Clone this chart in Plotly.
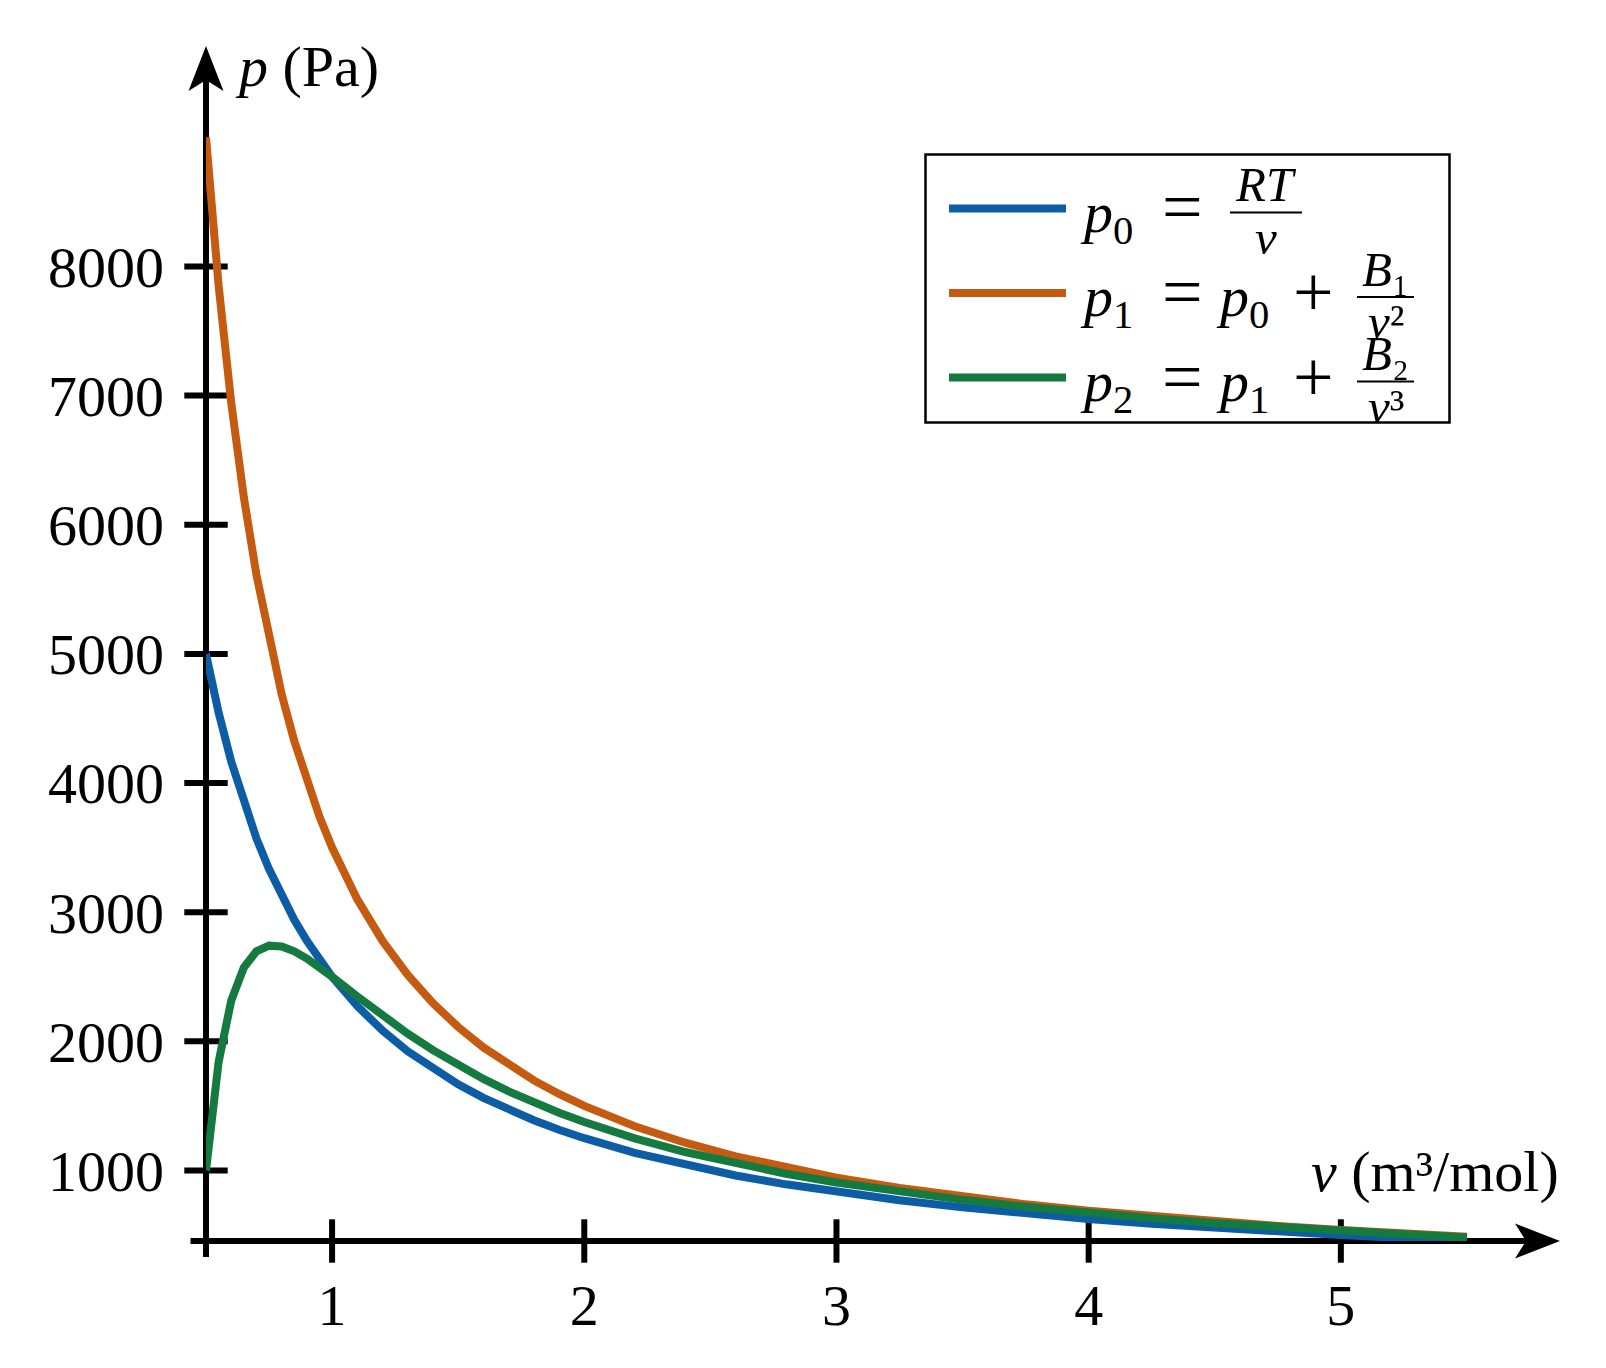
import plotly.graph_objects as go

# ---------------- data ----------------
v_values = [0.5, 0.55, 0.6, 0.65, 0.7, 0.75, 0.8, 0.85, 0.9, 0.95, 1.0,
            1.1, 1.2, 1.3, 1.4, 1.5, 1.6, 1.7, 1.8, 1.9, 2.0,
            2.2, 2.4, 2.6, 2.8, 3.0, 3.25, 3.5, 3.75, 4.0,
            4.25, 4.5, 4.75, 5.0, 5.25, 5.5]
p0_values = [5000, 4545.5, 4166.7, 3846.2, 3571.4, 3333.3, 3125, 2941.2, 2777.8, 2631.6, 2500,
             2272.7, 2083.3, 1923.1, 1785.7, 1666.7, 1562.5, 1470.6, 1388.9, 1315.8, 1250,
             1136.4, 1041.7, 961.5, 892.9, 833.3, 769.2, 714.3, 666.7, 625,
             588.2, 555.6, 526.3, 500, 476.2, 454.5]
p1_values = [9000, 7851.2, 6944.4, 6213.0, 5612.2, 5111.1, 4687.5, 4325.3, 4012.3, 3739.6, 3500,
             3099.2, 2777.8, 2514.8, 2295.9, 2111.1, 1953.1, 1816.6, 1697.5, 1592.8, 1500,
             1343.0, 1215.3, 1109.5, 1020.4, 944.4, 863.9, 795.9, 737.8, 687.5,
             643.6, 605.0, 570.6, 540, 512.5, 487.6]
p2_values = [1000, 1840.7, 2314.8, 2571.7, 2696.8, 2740.7, 2734.4, 2697.0, 2640.6, 2573.2, 2500,
             2347.9, 2199.1, 2059.6, 1931.5, 1814.8, 1709.0, 1613.1, 1526.0, 1447.0, 1375,
             1249.1, 1143.0, 1052.6, 974.9, 907.4, 834.8, 772.6, 718.8, 671.9,
             630.6, 594.0, 561.3, 532, 505.6, 481.6]

x_ticks = [1, 2, 3, 4, 5]
x_tick_labels = ["1", "2", "3", "4", "5"]
y_ticks = [1000, 2000, 3000, 4000, 5000, 6000, 7000, 8000]
y_tick_labels = ["1000", "2000", "3000", "4000", "5000", "6000", "7000", "8000"]

series_names = ["p0", "p1", "p2"]
series_colors = ["#0C5DA5", "#C55A11", "#157A3F"]

# ---------------- layout geometry ----------------
# the page body has an 8px margin, so the figure is drawn 8px in from the window edge
OFF = 8
W, H = 1590, 1352
PL, PR, PT, PB = 206, 1560, 46, 1241      # plot area in window pixels
L, T = PL - OFF, PT - OFF
R = W - (PR - OFF)
B = H - (PB - OFF)
PW = PR - PL
PH = PB - PT
X_RANGE = [0.5, 5.869]
Y_RANGE = [454, 9707]
FONT = "Liberation Serif"
BIG = 58
LW = 8


def px(x):
    return (x - PL) / PW


def py(y):
    return (PB - y) / PH


fig = go.Figure()

# tick marks crossing the axes
fig.add_trace(go.Scatter(
    x=x_ticks, y=[Y_RANGE[0]] * len(x_ticks), mode="markers",
    marker=dict(symbol="line-ns", size=31, color="black",
                line=dict(width=6, color="black")),
    cliponaxis=False, hoverinfo="skip", showlegend=False))
fig.add_trace(go.Scatter(
    x=[X_RANGE[0]] * len(y_ticks), y=y_ticks, mode="markers",
    marker=dict(symbol="line-ew", size=31, color="black",
                line=dict(width=6, color="black")),
    cliponaxis=False, hoverinfo="skip", showlegend=False))

# curves
for name, ys, col in zip(series_names, [p0_values, p1_values, p2_values], series_colors):
    fig.add_trace(go.Scatter(
        x=v_values, y=ys, mode="lines", name=name,
        line=dict(color=col, width=LW), cliponaxis=False, showlegend=False))

shapes = []
# axis lines
shapes.append(dict(type="line", xref="paper", yref="paper",
                   x0=px(190.5), x1=px(1530), y0=py(1241), y1=py(1241),
                   line=dict(color="black", width=6), layer="below"))
shapes.append(dict(type="line", xref="paper", yref="paper",
                   x0=px(206), x1=px(206), y0=py(1257), y1=py(80),
                   line=dict(color="black", width=6), layer="below"))


def path(points):
    return "M " + " L ".join(f"{px(a):.5f},{py(b):.5f}" for a, b in points) + " Z"


# arrow heads
shapes.append(dict(type="path", xref="paper", yref="paper",
                   path=path([(1560, 1241), (1515, 1223.5), (1526, 1241), (1515, 1258.5)]),
                   fillcolor="black", line=dict(width=0), layer="below"))
shapes.append(dict(type="path", xref="paper", yref="paper",
                   path=path([(206, 46), (188.5, 91), (206, 80), (223.5, 91)]),
                   fillcolor="black", line=dict(width=0), layer="below"))

# legend box
shapes.append(dict(type="rect", xref="paper", yref="paper",
                   x0=px(925.5), x1=px(1449.5), y0=py(154.5), y1=py(422.5),
                   line=dict(color="black", width=2.5), fillcolor="white", layer="above"))

annotations = []


def txt(text, x, y, size=BIG, xanchor="left", yanchor="middle"):
    annotations.append(dict(text=text, x=px(x), y=py(y), xref="paper", yref="paper",
                            xanchor=xanchor, yanchor=yanchor, showarrow=False,
                            borderpad=0,
                            font=dict(family=FONT, size=size, color="black")))


# legend rows
row_axis = [212.5, 297, 381.5]
lhs = ["<i>p</i><sub>0</sub>", "<i>p</i><sub>1</sub>", "<i>p</i><sub>2</sub>"]
prev = [None, "<i>p</i><sub>0</sub>", "<i>p</i><sub>1</sub>"]
num = ["<i>RT</i>", "<i>B</i>₁", "<i>B</i>₂"]
den = ["<i>v</i>", "<i>v</i>²", "<i>v</i>³"]
FR = 49
OP = 72
for i in range(3):
    ya = row_axis[i]
    shapes.append(dict(type="line", xref="paper", yref="paper",
                       x0=px(949), x1=px(1066), y0=py(ya - 4), y1=py(ya - 4),
                       line=dict(color=series_colors[i], width=LW), layer="above"))
    txt(lhs[i], 1079, ya + 4)
    txt("=", 1182.5, ya - 5, size=OP, xanchor="center")
    if prev[i] is None:
        bx0, bx1 = 1230, 1302
    else:
        txt(prev[i], 1215, ya + 4)
        txt("+", 1313, ya - 5, size=OP, xanchor="center")
        bx0, bx1 = 1357, 1414
    shapes.append(dict(type="line", xref="paper", yref="paper",
                       x0=px(bx0), x1=px(bx1), y0=py(ya), y1=py(ya),
                       line=dict(color="black", width=2), layer="above"))
    txt(num[i], (bx0 + bx1) / 2, ya + 1, size=FR, xanchor="center", yanchor="bottom")
    txt(den[i], (bx0 + bx1) / 2, ya - 4, size=FR, xanchor="center", yanchor="top")

# axis labels
txt("<i>p</i> (Pa)", 234, 67)
txt("<i>v</i> (m³/mol)", 1560, 1171, xanchor="right")

fig.update_layout(
    width=W, height=H,
    margin=dict(l=L, r=R, t=T, b=B, pad=0),
    paper_bgcolor="white", plot_bgcolor="white",
    showlegend=False,
    font=dict(family=FONT, size=BIG, color="black"),
    xaxis=dict(range=X_RANGE, showgrid=False, zeroline=False, showline=False,
               tickmode="array", tickvals=x_ticks, ticktext=x_tick_labels,
               ticks="", ticklabelstandoff=25,
               tickfont=dict(family=FONT, size=BIG, color="black")),
    yaxis=dict(range=Y_RANGE, showgrid=False, zeroline=False, showline=False,
               tickmode="array", tickvals=y_ticks, ticktext=y_tick_labels,
               ticks="", ticklabelstandoff=41,
               tickfont=dict(family=FONT, size=BIG, color="black")),
    shapes=shapes,
    annotations=annotations,
)

fig.write_html("out.html")
